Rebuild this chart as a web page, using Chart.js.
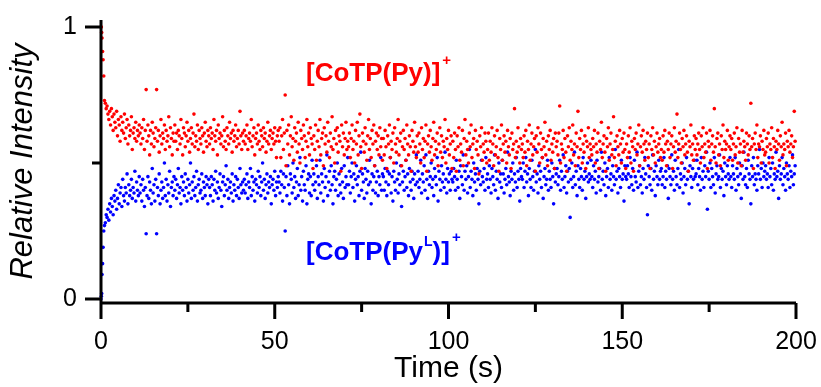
<!DOCTYPE html>
<html>
<head>
<meta charset="utf-8">
<script src="https://cdn.jsdelivr.net/npm/chart.js@4.4.1/dist/chart.umd.min.js"></script>
<style>
  html, body { margin: 0; padding: 0; background: #fff; }
  #wrap { width: 821px; height: 387px; }
</style>
</head>
<body>
<div id="wrap"><canvas id="relChart" width="821" height="387"></canvas></div>
<script>
// ---- data ----
// first second: scans come faster, so times are listed one by one
const earlyTime = [0, 0.1, 0.2, 0.3, 0.45, 0.6, 0.8, 1.0];
const earlyPy   = [1.0, 1.0, .98, .96, .91, .88, .82, .73];
const earlyPyL  = [0, .01, .02, .09, .13, .19, .25, .27];

// after that one scan every 0.25 s
const scanStart = 1.25;
const scanStep = 0.25;

// [CoTP(Py)]+ (red), one row = 10 s
const pyIntensity = [
  .72,.70,.71,.68,.66,.69,.64,.70,.67,.62,.68,.65,.63,.69,.60,.66,.64,.58,.67,.62,.65,.61,.68,.59,.63,.66,.57,.64,.60,.62,.67,.55,.61,.63,.59,.65,.58,.62,.60,.64,
  .61,.57,.63,.59,.66,.55,.62,.77,.58,.64,.60,.53,.62,.57,.65,.61,.56,.59,.63,.77,.58,.62,.54,.60,.66,.57,.61,.59,.64,.55,.62,.58,.60,.67,.56,.63,.59,.53,.61,.58,
  .64,.58,.61,.55,.62,.60,.57,.66,.59,.53,.63,.61,.56,.60,.65,.58,.62,.54,.59,.63,.57,.61,.68,.56,.60,.58,.64,.55,.62,.59,.57,.63,.60,.54,.61,.65,.58,.56,.62,.60,
  .57,.63,.59,.61,.55,.66,.60,.58,.62,.53,.64,.59,.61,.57,.60,.67,.56,.62,.58,.55,.63,.60,.57,.65,.59,.61,.54,.62,.58,.60,.64,.56,.59,.62,.57,.69,.60,.55,.61,.58,
  .62,.57,.60,.64,.55,.59,.61,.58,.66,.56,.60,.63,.53,.59,.61,.57,.64,.58,.55,.62,.60,.56,.63,.59,.61,.54,.58,.65,.57,.60,.62,.55,.59,.61,.57,.63,.58,.52,.60,.62,
  .58,.63,.52,.60,.66,.55,.61,.75,.49,.62,.57,.64,.53,.60,.67,.56,.59,.51,.63,.58,.61,.54,.65,.57,.50,.62,.59,.55,.64,.60,.52,.58,.66,.56,.61,.53,.63,.59,.57,.48,
  .60,.55,.64,.51,.58,.62,.56,.66,.53,.59,.61,.49,.63,.57,.60,.54,.65,.58,.52,.61,.56,.67,.55,.59,.50,.62,.57,.63,.54,.60,.58,.47,.64,.56,.61,.53,.59,.65,.55,.58,
  .56,.61,.52,.59,.64,.55,.58,.50,.62,.57,.65,.53,.60,.68,.56,.48,.61,.58,.54,.63,.57,.51,.60,.66,.55,.59,.52,.62,.57,.64,.49,.58,.61,.55,.60,.53,.63,.56,.59,.51,
  .59,.53,.62,.56,.48,.60,.57,.64,.52,.58,.55,.61,.50,.63,.57,.54,.59,.66,.53,.58,.61,.49,.56,.62,.55,.59,.51,.64,.57,.53,.60,.56,.47,.62,.58,.54,.65,.56,.52,.60,
  .54,.61,.57,.50,.63,.55,.59,.52,.58,.64,.47,.57,.60,.54,.62,.56,.51,.59,.65,.53,.58,.55,.61,.49,.57,.63,.54,.60,.52,.58,.56,.66,.50,.59,.55,.62,.53,.57,.60,.48,
  .58,.52,.61,.55,.47,.60,.56,.63,.51,.57,.54,.62,.49,.59,.66,.53,.58,.55,.50,.61,.56,.64,.52,.57,.59,.48,.62,.55,.58,.53,.46,.60,.56,.63,.51,.57,.54,.61,.58,.50,
  .55,.61,.51,.58,.54,.63,.57,.49,.60,.53,.56,.62,.52,.47,.59,.55,.64,.51,.57,.60,.54,.58,.50,.62,.56,.53,.59,.48,.61,.55,.57,.70,.52,.58,.54,.63,.56,.50,.59,.55,
  .57,.52,.60,.54,.62,.49,.58,.55,.64,.51,.57,.61,.53,.56,.59,.47,.60,.54,.63,.57,.50,.61,.55,.52,.59,.56,.65,.53,.58,.49,.60,.55,.62,.51,.57,.54,.59,.48,.61,.56,
  .58,.53,.61,.71,.50,.57,.55,.62,.52,.59,.54,.47,.60,.56,.63,.51,.58,.55,.64,.53,.57,.49,.61,.56,.69,.52,.59,.55,.62,.50,.57,.54,.60,.48,.58,.56,.63,.52,.57,.55,
  .53,.59,.56,.62,.50,.57,.54,.61,.48,.58,.55,.65,.52,.57,.60,.54,.47,.59,.56,.63,.51,.57,.61,.53,.55,.67,.52,.58,.49,.60,.56,.53,.62,.57,.50,.59,.54,.61,.55,.48,
  .57,.52,.60,.54,.63,.50,.58,.56,.47,.59,.55,.61,.53,.57,.64,.49,.56,.60,.54,.62,.57,.51,.58,.55,.61,.52,.57,.48,.60,.55,.63,.53,.58,.50,.56,.61,.54,.57,.59,.52,
  .55,.51,.60,.54,.62,.57,.49,.58,.55,.61,.52,.57,.60,.48,.56,.63,.54,.58,.68,.52,.57,.61,.55,.50,.59,.56,.62,.53,.57,.60,.54,.47,.58,.56,.64,.53,.57,.51,.60,.55,
  .59,.53,.57,.61,.55,.50,.60,.56,.63,.52,.57,.54,.61,.48,.58,.56,.62,.51,.57,.60,.54,.70,.56,.50,.59,.61,.53,.57,.49,.60,.55,.64,.52,.58,.55,.57,.62,.51,.56,.60,
  .55,.59,.51,.57,.61,.53,.56,.63,.50,.59,.54,.57,.49,.62,.54,.58,.56,.51,.61,.57,.53,.60,.55,.72,.56,.59,.48,.57,.61,.55,.64,.52,.57,.56,.60,.50,.58,.55,.62,.53,
  .54,.59,.56,.61,.50,.57,.55,.63,.52,.59,.56,.48,.58,.55,.62,.57,.51,.60,.56,.65,.53,.57,.55,.61,.49,.58,.56,.62,.54,.57,.60,.52,.56,.69,.58
];

// [CoTP(PyL)]+ (blue), one row = 10 s
const pyLIntensity = [
  .28,.31,.30,.33,.29,.35,.32,.37,.34,.31,.38,.36,.40,.33,.37,.42,.35,.39,.41,.34,.44,.38,.36,.41,.39,.46,.35,.42,.38,.40,.44,.37,.41,.39,.47,.36,.43,.40,.38,.45,
  .39,.42,.36,.44,.40,.34,.41,.24,.38,.45,.37,.43,.40,.35,.48,.39,.42,.36,.44,.24,.41,.38,.46,.35,.40,.43,.37,.41,.50,.38,.44,.36,.42,.39,.47,.34,.41,.43,.38,.45,
  .40,.44,.37,.42,.48,.39,.41,.35,.45,.40,.43,.38,.46,.41,.36,.44,.39,.42,.50,.37,.43,.40,.45,.38,.41,.47,.36,.42,.44,.39,.40,.46,.37,.43,.41,.38,.45,.42,.35,.44,
  .41,.38,.45,.42,.36,.44,.40,.47,.39,.43,.37,.41,.46,.40,.34,.43,.45,.38,.42,.49,.40,.44,.37,.41,.43,.39,.46,.36,.42,.40,.45,.38,.44,.41,.37,.48,.42,.39,.43,.40,
  .44,.39,.42,.46,.37,.43,.41,.48,.38,.45,.40,.43,.36,.44,.42,.39,.47,.41,.45,.38,.43,.50,.40,.44,.37,.42,.46,.39,.43,.41,.45,.35,.42,.44,.40,.47,.38,.43,.41,.45,
  .43,.39,.47,.42,.36,.46,.41,.25,.45,.38,.49,.42,.35,.46,.44,.39,.50,.41,.45,.37,.43,.48,.38,.42,.52,.40,.45,.36,.47,.42,.40,.49,.35,.44,.46,.39,.45,.38,.51,.42,
  .46,.40,.43,.49,.37,.45,.42,.51,.39,.46,.43,.36,.48,.41,.45,.53,.38,.43,.47,.40,.49,.42,.35,.45,.47,.40,.44,.50,.38,.46,.42,.39,.48,.43,.37,.49,.41,.45,.42,.52,
  .42,.47,.39,.45,.50,.41,.46,.36,.44,.49,.42,.45,.38,.47,.54,.40,.46,.43,.37,.48,.44,.39,.47,.42,.51,.43,.35,.46,.40,.45,.49,.39,.43,.47,.38,.45,.42,.52,.40,.46,
  .45,.40,.48,.43,.38,.47,.42,.46,.52,.39,.45,.36,.47,.43,.40,.50,.44,.39,.46,.42,.49,.34,.43,.47,.40,.45,.51,.41,.46,.38,.48,.43,.40,.47,.44,.37,.46,.42,.53,.43,
  .47,.41,.44,.51,.39,.46,.43,.49,.40,.53,.44,.37,.47,.42,.45,.50,.41,.44,.38,.48,.45,.42,.52,.36,.47,.44,.40,.49,.43,.46,.41,.54,.44,.39,.48,.43,.46,.40,.47,.44,
  .43,.48,.45,.40,.51,.44,.41,.47,.37,.49,.45,.42,.53,.40,.47,.44,.49,.39,.45,.55,.41,.47,.44,.38,.50,.43,.46,.40,.48,.44,.35,.47,.42,.51,.45,.43,.48,.40,.52,.44,
  .46,.41,.49,.44,.39,.48,.45,.42,.53,.40,.47,.44,.37,.50,.43,.46,.41,.51,.46,.39,.44,.48,.42,.54,.45,.43,.38,.47,.44,.50,.40,.46,.43,.52,.41,.47,.44,.36,.48,.45,
  .44,.50,.41,.47,.52,.43,.46,.38,.48,.44,.41,.51,.45,.40,.47,.55,.43,.46,.39,.49,.44,.47,.41,.52,.37,.45,.48,.42,.44,.51,.40,.47,.44,.41,.50,.45,.35,.48,.43,.46,
  .48,.42,.45,.51,.40,.47,.44,.53,.41,.45,.49,.39,.47,.43,.48,.30,.44,.50,.41,.45,.54,.42,.47,.38,.49,.44,.41,.48,.45,.40,.52,.44,.47,.37,.45,.50,.43,.46,.44,.51,
  .45,.41,.49,.44,.47,.39,.51,.43,.45,.48,.40,.54,.44,.47,.42,.50,.38,.45,.48,.41,.52,.44,.46,.40,.49,.45,.42,.55,.44,.47,.39,.48,.45,.41,.51,.44,.46,.36,.49,.45,
  .44,.49,.46,.41,.52,.45,.42,.48,.40,.51,.45,.43,.54,.41,.47,.49,.42,.45,.39,.48,.44,.52,.46,.41,.31,.49,.45,.42,.48,.40,.53,.44,.47,.38,.49,.45,.42,.51,.44,.47,
  .48,.42,.45,.52,.41,.47,.44,.49,.37,.48,.45,.42,.53,.44,.47,.40,.51,.45,.42,.48,.55,.41,.46,.44,.50,.39,.45,.48,.42,.52,.44,.47,.35,.49,.45,.41,.48,.44,.51,.45,
  .46,.51,.42,.48,.45,.40,.52,.44,.47,.41,.49,.45,.54,.33,.47,.44,.50,.41,.48,.45,.42,.52,.39,.46,.49,.44,.45,.53,.41,.48,.44,.47,.38,.50,.45,.42,.49,.46,.44,.52,
  .45,.41,.49,.46,.44,.52,.40,.48,.45,.42,.50,.46,.37,.49,.44,.54,.45,.42,.48,.41,.51,.46,.44,.35,.49,.45,.52,.42,.46,.44,.40,.49,.46,.55,.44,.48,.41,.50,.45,.47,
  .49,.44,.46,.41,.52,.45,.48,.42,.50,.40,.46,.44,.54,.45,.47,.37,.49,.44,.46,.52,.42,.48,.45,.40,.50,.46,.44,.49,.41,.47,.45,.53,.42,.46,.49
];

const xTicks = [0, 50, 100, 150, 200];
const xMinorTicks = [25, 75, 125, 175];
const yTicks = [0, 1];
const yMinorTicks = [0.5];

// where the two species labels sit (data coords of the text baseline start)
const pyLabelAt = { x: 59, y: 0.80 };
const pyLLabelAt = { x: 59, y: 0.143 };

const FONT = 'Arial, "Liberation Sans", sans-serif';
const RED = '#ff0000';
const BLUE = '#0000ff';

function toPoints(early, scans) {
    const pts = earlyTime.map((t, i) => ({ x: t, y: early[i] }));
    scans.forEach((v, i) => pts.push({ x: +(scanStart + i * scanStep).toFixed(2), y: v }));
    return pts;
}

// text with raised bits: parts = [text, size, rise, gapBefore]
function drawRich(ctx, parts, x, y, color) {
    ctx.fillStyle = color;
    ctx.textBaseline = 'alphabetic';
    ctx.textAlign = 'left';
    let cx = x;
    parts.forEach(([txt, size, rise, gap]) => {
        cx += gap || 0;
        ctx.font = `bold ${size}px ${FONT}`;
        ctx.fillText(txt, cx, y - rise);
        cx += ctx.measureText(txt).width;
    });
}

const axesPlugin = {
    id: 'axesPlugin',
    afterDatasetsDraw(chart) {
        const { ctx, chartArea: a, scales: { x, y } } = chart;
        ctx.save();
        ctx.strokeStyle = '#000';
        ctx.lineWidth = 3;
        ctx.beginPath();
        ctx.moveTo(a.left, a.top);
        ctx.lineTo(a.left, a.bottom + 1.5);
        ctx.moveTo(a.left, a.bottom);
        ctx.lineTo(a.right, a.bottom);
        yTicks.forEach(v => {
            const py = y.getPixelForValue(v);
            ctx.moveTo(a.left - 16, py); ctx.lineTo(a.left, py);
        });
        yMinorTicks.forEach(v => {
            const py = y.getPixelForValue(v);
            ctx.moveTo(a.left - 9, py); ctx.lineTo(a.left, py);
        });
        xTicks.forEach(v => {
            const px = x.getPixelForValue(v);
            ctx.moveTo(px, a.bottom); ctx.lineTo(px, a.bottom + 16);
        });
        xMinorTicks.forEach(v => {
            const px = x.getPixelForValue(v);
            ctx.moveTo(px, a.bottom); ctx.lineTo(px, a.bottom + 9);
        });
        ctx.stroke();

        drawRich(ctx, [['[CoTP(Py)]', 26, 0], ['+', 15, 16, 2]],
            x.getPixelForValue(pyLabelAt.x), y.getPixelForValue(pyLabelAt.y), RED);
        drawRich(ctx, [['[CoTP(Py', 26, 0], ['L', 14, 14, 1], [')]', 26, 0], ['+', 15, 18, 2]],
            x.getPixelForValue(pyLLabelAt.x), y.getPixelForValue(pyLLabelAt.y), BLUE);
        ctx.restore();
    }
};

new Chart(document.getElementById('relChart'), {
    type: 'scatter',
    data: {
        datasets: [
            { label: '[CoTP(Py)]+', data: toPoints(earlyPy, pyIntensity),
              backgroundColor: RED, borderWidth: 0, pointRadius: 1.8, clip: false },
            { label: '[CoTP(PyL)]+', data: toPoints(earlyPyL, pyLIntensity),
              backgroundColor: BLUE, borderWidth: 0, pointRadius: 1.8, clip: false }
        ]
    },
    options: {
        responsive: false,
        animation: false,
        layout: { padding: { left: 0, right: 25, top: 20, bottom: 0 } },
        plugins: { legend: { display: false }, tooltip: { enabled: false } },
        scales: {
            x: {
                type: 'linear', min: 0, max: 200,
                afterBuildTicks: s => { s.ticks = xTicks.map(v => ({ value: v })); },
                afterFit: s => { s.height = 84; s.paddingLeft = 0; s.paddingRight = 0; },
                grid: { display: false, drawTicks: false, tickLength: 0 },
                border: { display: false },
                ticks: { font: { family: FONT, size: 25 }, color: '#000', padding: 24, maxRotation: 0 },
                title: { display: true, text: 'Time (s)', color: '#000',
                         font: { family: FONT, size: 30 }, padding: { top: 0, bottom: 0 } }
            },
            y: {
                min: -0.0147, max: 1.026,
                afterBuildTicks: s => { s.ticks = yTicks.map(v => ({ value: v })); },
                afterFit: s => { s.width = 101; s.paddingTop = 0; s.paddingBottom = 0; },
                grid: { display: false, drawTicks: false, tickLength: 0 },
                border: { display: false },
                ticks: { font: { family: FONT, size: 25 }, color: '#000', padding: 24 },
                title: { display: true, text: 'Relative Intensity', color: '#000',
                         font: { family: FONT, size: 31, style: 'italic' }, padding: { top: 5, bottom: 0 } }
            }
        }
    },
    plugins: [axesPlugin]
});
</script>
</body>
</html>
